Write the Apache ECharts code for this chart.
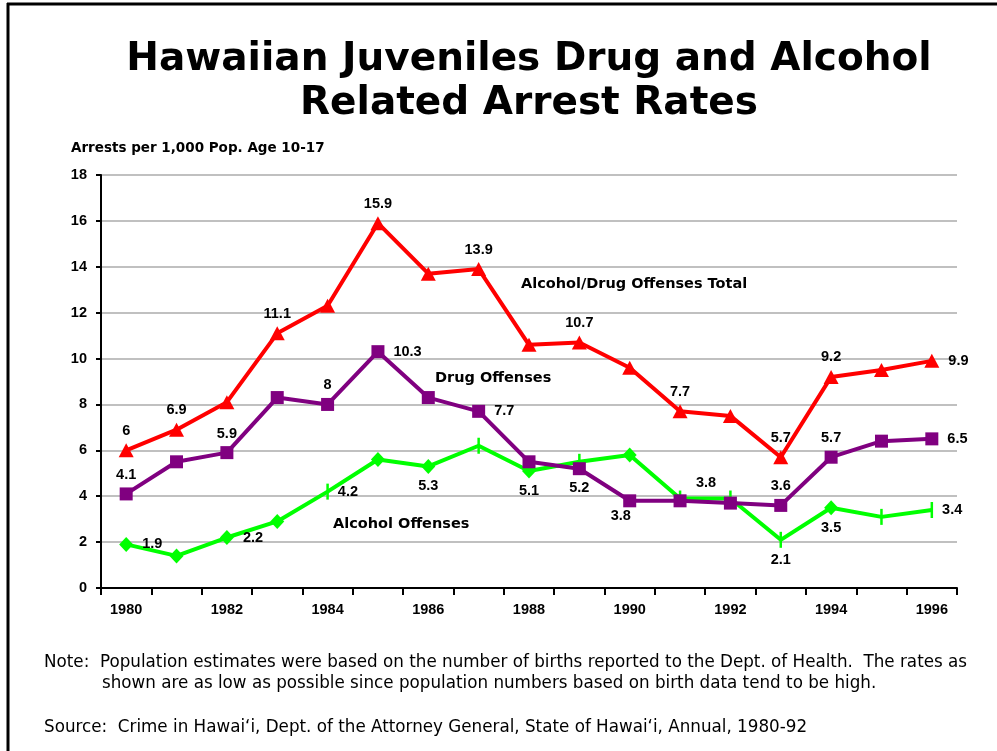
<!DOCTYPE html>
<html>
<head>
<meta charset="utf-8">
<script src="https://cdn.jsdelivr.net/npm/echarts@6/dist/echarts.min.js"></script>
<style>
html,body{margin:0;padding:0;background:#fff;overflow:hidden;}
#chart{width:997px;height:751px;}
</style>
</head>
<body>
<div id="chart"></div>
<script>
// ---- data ----
const years = ['1980','1981','1982','1983','1984','1985','1986','1987','1988','1989','1990','1991','1992','1993','1994','1995','1996'];
const totalRate   = [6.0, 6.9, 8.1, 11.1, 12.3, 15.9, 13.7, 13.9, 10.6, 10.7, 9.6, 7.7, 7.5, 5.7, 9.2, 9.5, 9.9];
const drugRate    = [4.1, 5.5, 5.9, 8.3, 8.0, 10.3, 8.3, 7.7, 5.5, 5.2, 3.8, 3.8, 3.7, 3.6, 5.7, 6.4, 6.5];
const alcoholRate = [1.9, 1.4, 2.2, 2.9, 4.2, 5.6, 5.3, 6.2, 5.1, 5.5, 5.8, 3.9, 3.9, 2.1, 3.5, 3.1, 3.4];
const yTicks = [0, 2, 4, 6, 8, 10, 12, 14, 16, 18];
const seriesNames = ['Alcohol/Drug Offenses Total', 'Drug Offenses', 'Alcohol Offenses'];
const titleLines = ['Hawaiian Juveniles Drug and Alcohol', 'Related Arrest Rates'];
const yAxisTitle = 'Arrests per 1,000 Pop. Age 10-17';
const noteLines = ['Note:  Population estimates were based on the number of births reported to the Dept. of Health.  The rates as',
                   'shown are as low as possible since population numbers based on birth data tend to be high.'];
const sourceLine = 'Source:  Crime in Hawai\u2018i, Dept. of the Attorney General, State of Hawai\u2018i, Annual, 1980-92';

// ---- styling config (label placement per point, marker choice) ----
const totalLabelPos   = {0:'top',1:'top',3:'top',5:'top',7:'top',9:'top',11:'top',13:'top',14:'top',16:'right'};
const drugLabelPos    = {0:'top',2:'top',4:'top',5:'right',7:'right',9:'bottom',10:'bottomLeft',11:'topShift',13:'top',14:'top',16:'right'};
const alcoholLabelPos = {0:'right',2:'right',4:'right',6:'bottom',8:'bottom',13:'bottom',14:'bottom',16:'right'};
const alcoholDiamondIdx = [0,1,2,3,5,6,8,10,14];

const numFont = {fontFamily:'"Liberation Sans", Arial, sans-serif', fontWeight:'bold', fontSize:14.5, color:'#000'};

function buildData(values, posMap, symbolFn) {
  return values.map((v, i) => {
    const item = {value: v};
    const p = posMap[i];
    if (p) {
      const lbl = Object.assign({show:true, formatter: String(v)}, numFont);
      if (p === 'topShift') { lbl.position = 'top'; lbl.offset = [26, 0]; lbl.distance = 4; }
      else if (p === 'bottomLeft') { lbl.position = 'bottom'; lbl.offset = [-9, 0]; lbl.distance = 1; }
      else { lbl.position = p; lbl.distance = p === 'right' ? 9 : 5; }
      item.label = lbl;
    }
    if (symbolFn) Object.assign(item, symbolFn(i));
    return item;
  });
}

const chart = echarts.init(document.getElementById('chart'), null, {renderer:'canvas'});
const option = {
  animation: false,
  backgroundColor: '#fff',
  grid: {left:101, right:40, top:175, bottom:163},
  xAxis: {
    type: 'category',
    data: years,
    boundaryGap: true,
    axisLine: {lineStyle:{color:'#000', width:2}},
    axisTick: {show:true, interval:0, length:7, lineStyle:{color:'#000', width:2}},
    axisLabel: Object.assign({interval:1, margin:14}, numFont),
    splitLine: {show:false}
  },
  yAxis: {
    type: 'value',
    min: yTicks[0], max: yTicks[yTicks.length-1], interval: 2,
    axisLine: {show:true, lineStyle:{color:'#000', width:2}},
    axisTick: {show:true, length:5, lineStyle:{color:'#000', width:2}},
    axisLabel: Object.assign({margin:14}, numFont),
    splitLine: {show:true, lineStyle:{color:'#c0c0c0', width:2}}
  },
  series: [
    {
      name: seriesNames[2], type:'line', z:2,
      data: buildData(alcoholRate, alcoholLabelPos, i => alcoholDiamondIdx.indexOf(i) >= 0
        ? {symbol:'diamond', symbolSize:[14,15]}
        : {symbol:'rect', symbolSize:[2.5,16]}),
      lineStyle:{color:'#00ff00', width:4},
      itemStyle:{color:'#00ff00'},
      showAllSymbol:true
    },
    {
      name: seriesNames[1], type:'line', z:3,
      data: buildData(drugRate, drugLabelPos),
      symbol:'rect', symbolSize:13,
      lineStyle:{color:'#800080', width:4},
      itemStyle:{color:'#800080'},
      showAllSymbol:true
    },
    {
      name: seriesNames[0], type:'line', z:4,
      data: buildData(totalRate, totalLabelPos),
      symbol:'triangle', symbolSize:[15,14],
      lineStyle:{color:'#ff0000', width:4},
      itemStyle:{color:'#ff0000'},
      showAllSymbol:true
    }
  ],
  graphic: [
    {type:'line', shape:{x1:8, y1:3, x2:8, y2:760}, style:{stroke:'#000', lineWidth:3}, silent:true},
    {type:'line', shape:{x1:7, y1:4, x2:1000, y2:4}, style:{stroke:'#000', lineWidth:3}, silent:true},
    {type:'text', x:529, y:60, style:{text:titleLines[0], font:'bold 39px "DejaVu Sans", Verdana, sans-serif', fill:'#000', textAlign:'center', textVerticalAlign:'middle'}},
    {type:'text', x:529, y:104, style:{text:titleLines[1], font:'bold 39px "DejaVu Sans", Verdana, sans-serif', fill:'#000', textAlign:'center', textVerticalAlign:'middle'}},
    {type:'text', x:71, y:148, style:{text:yAxisTitle, font:'bold 13.5px "DejaVu Sans", sans-serif', fill:'#000', textAlign:'left', textVerticalAlign:'middle'}},
    {type:'text', x:521, y:284, style:{text:seriesNames[0], font:'bold 14.5px "DejaVu Sans", sans-serif', fill:'#000', textAlign:'left', textVerticalAlign:'middle'}},
    {type:'text', x:435, y:378, style:{text:seriesNames[1], font:'bold 14.5px "DejaVu Sans", sans-serif', fill:'#000', textAlign:'left', textVerticalAlign:'middle'}},
    {type:'text', x:333, y:524, style:{text:seriesNames[2], font:'bold 14.5px "DejaVu Sans", sans-serif', fill:'#000', textAlign:'left', textVerticalAlign:'middle'}},
    {type:'text', x:44, y:663, style:{text:noteLines[0], font:'16.75px "DejaVu Sans", sans-serif', fill:'#000', textAlign:'left', textVerticalAlign:'middle'}},
    {type:'text', x:102, y:684, style:{text:noteLines[1], font:'16.75px "DejaVu Sans", sans-serif', fill:'#000', textAlign:'left', textVerticalAlign:'middle'}},
    {type:'text', x:44, y:728, style:{text:sourceLine, font:'16.75px "DejaVu Sans", sans-serif', fill:'#000', textAlign:'left', textVerticalAlign:'middle'}}
  ]
};
chart.setOption(option);
</script>
</body>
</html>
